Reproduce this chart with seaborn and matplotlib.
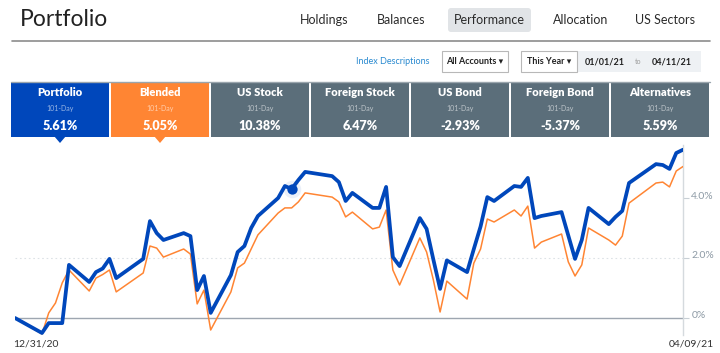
import numpy as np
import pandas as pd
import matplotlib
matplotlib.use('Agg')
import matplotlib.pyplot as plt
import matplotlib.transforms as mtransforms
from matplotlib.patches import Rectangle, FancyBboxPatch, Polygon
import seaborn as sns

# %% data
dates = ['2020-12-31',
         '2021-01-04', '2021-01-05', '2021-01-06', '2021-01-07', '2021-01-08',
         '2021-01-11', '2021-01-12', '2021-01-13', '2021-01-14', '2021-01-15',
         '2021-01-19', '2021-01-20', '2021-01-21', '2021-01-22',
         '2021-01-25', '2021-01-26', '2021-01-27', '2021-01-28', '2021-01-29',
         '2021-02-01', '2021-02-02', '2021-02-03', '2021-02-04', '2021-02-05',
         '2021-02-08', '2021-02-09', '2021-02-10', '2021-02-11', '2021-02-12',
         '2021-02-16', '2021-02-17', '2021-02-18', '2021-02-19',
         '2021-02-22', '2021-02-23', '2021-02-24', '2021-02-25', '2021-02-26',
         '2021-03-01', '2021-03-02', '2021-03-03', '2021-03-04', '2021-03-05',
         '2021-03-08', '2021-03-09', '2021-03-10', '2021-03-11', '2021-03-12',
         '2021-03-15', '2021-03-16', '2021-03-17', '2021-03-18', '2021-03-19',
         '2021-03-22', '2021-03-23', '2021-03-24', '2021-03-25', '2021-03-26',
         '2021-03-29', '2021-03-30', '2021-03-31', '2021-04-01',
         '2021-04-05', '2021-04-06', '2021-04-07', '2021-04-08', '2021-04-09']

portfolio = [0.00,
             -0.50, -0.17, -0.17, -0.17, 1.77,
             1.20, 1.53, 1.65, 1.97, 1.33,
             1.97, 3.23, 2.83, 2.60,
             2.83, 2.73, 0.93, 1.40, 0.17,
             1.43, 2.20, 2.40, 3.00, 3.40,
             4.00, 4.40, 4.30, 4.60, 4.87,
             4.73, 4.53, 3.90, 4.17,
             3.67, 3.67, 4.37, 2.03, 1.73,
             3.33, 2.97, 1.95, 0.97, 1.92,
             1.53, 2.30, 3.05, 4.03, 3.90,
             4.40, 4.37, 4.67, 3.33, 3.40,
             3.53, 2.75, 1.97, 2.60, 3.67,
             3.13, 3.37, 3.57, 4.50,
             5.13, 5.10, 4.97, 5.50, 5.61]

blended = [0.00,
           -0.53, 0.17, 0.50, 1.17, 1.60,
           0.90, 1.33, 1.45, 1.60, 0.87,
           1.50, 2.40, 2.33, 2.03,
           2.30, 2.13, 0.47, 0.93, -0.40,
           0.87, 1.67, 1.83, 2.30, 2.77,
           3.50, 3.67, 3.67, 3.87, 4.17,
           4.03, 3.87, 3.37, 3.53,
           2.97, 3.03, 3.60, 1.60, 1.10,
           2.67, 2.20, 1.27, 0.20, 1.23,
           0.63, 1.83, 2.30, 3.30, 3.20,
           3.60, 3.40, 3.73, 2.33, 2.53,
           2.80, 1.87, 1.40, 1.77, 3.00,
           2.60, 2.43, 2.73, 3.83,
           4.50, 4.53, 4.37, 4.90, 5.05]

hover_date = '2021-02-10'

tile_names = ['Portfolio', 'Blended', 'US Stock', 'Foreign Stock', 'US Bond', 'Foreign Bond', 'Alternatives']
tile_values = ['5.61%', '5.05%', '10.38%', '6.47%', '-2.93%', '-5.37%', '5.59%']
tile_period = '101-Day'

nav_items = ['Holdings', 'Balances', 'Performance', 'Allocation', 'US Sectors']
nav_x = [324, 401, 489, 581, 665]

y_ticks = [0, 2, 4]
y_ticklabels = ['0%', '2.0%', '4.0%']
start_label, end_label = '12/31/20', '04/09/21'

# %% colours
BLUE = '#0047bb'
ORANGE = '#ff8533'
SLATE = '#5b6e7a'

sns.set_style('white')
plt.rcParams['font.family'] = ['Lato', 'DejaVu Sans']

W, H = 720, 353
fig = plt.figure(figsize=(W / 100, H / 100), dpi=100)

# background axes in pixel coords for the page furniture
bg = fig.add_axes([0, 0, 1, 1])
bg.set_xlim(0, W)
bg.set_ylim(H, 0)
bg.axis('off')

bg.text(20, 20, 'Portfolio', fontsize=16.5, color='#222222', va='center', ha='left')
bg.add_patch(FancyBboxPatch((448, 8), 83, 24, boxstyle='round,pad=0,rounding_size=3',
                            fc='#e1e4e7', ec='none'))
for name, x in zip(nav_items, nav_x):
    bg.text(x, 20, name, fontsize=9, color='#2b2b2b', ha='center', va='center')
bg.plot([12, 710], [41, 41], color='#8c8c8c', lw=1.2)

# filter row
bg.text(393, 61, 'Index Descriptions', fontsize=6.5, color='#2a8ad0', ha='center', va='center')
bg.add_patch(Rectangle((442, 51), 66, 21, fc='white', ec='#b8b8b8', lw=0.8))
bg.text(475, 61.5, 'All Accounts ▾', fontsize=6.5, fontweight='bold', color='#222222',
        ha='center', va='center')
bg.add_patch(Rectangle((577, 51), 124, 21, fc='#eef1f4', ec='none'))
bg.add_patch(Rectangle((521, 51), 56, 21, fc='white', ec='#b8b8b8', lw=0.8))
bg.text(549, 61.5, 'This Year ▾', fontsize=6.5, fontweight='bold', color='#222222',
        ha='center', va='center')
bg.text(605, 62, '01/01/21', fontsize=6.5, fontweight='bold', color='#222222', ha='center', va='center')
bg.text(638, 62, 'to', fontsize=5, color='#999999', ha='center', va='center')
bg.text(672, 62, '04/11/21', fontsize=6.5, fontweight='bold', color='#222222', ha='center', va='center')

# summary tiles
bg.plot([11, 710], [81.5, 81.5], color='#9aa5ad', lw=1)
tile_colors = [BLUE, ORANGE] + [SLATE] * (len(tile_names) - 2)
for i, (name, val, col) in enumerate(zip(tile_names, tile_values, tile_colors)):
    x0 = 11 + i * 100
    bg.add_patch(Rectangle((x0, 82), 98, 55, fc=col, ec='none'))
    cx = x0 + 49
    bg.text(cx, 93, name, fontsize=8, fontweight='heavy', color='white', ha='center', va='center')
    bg.text(cx, 108.5, tile_period, fontsize=5, color='white', alpha=0.6, ha='center', va='center')
    bg.text(cx, 126, val, fontsize=9, fontweight='heavy', color='white', ha='center', va='center')
    if i < 2:
        bg.add_patch(Polygon([(cx - 6, 136), (cx + 6, 136), (cx, 143)], closed=True, fc=col, ec='none'))

# %% chart
df = pd.DataFrame({'date': pd.to_datetime(dates), 'Portfolio': portfolio, 'Blended': blended})
long_df = df.melt('date', var_name='series', value_name='ret')

ax = fig.add_axes([15 / W, (H - 335) / H, (683 - 15) / W, (335 - 145) / H])
ax.patch.set_alpha(0)
ax.axhline(2, color='#dde2e6', lw=0.8, ls=(0, (1.5, 2.5)), zorder=0)
ax.axhline(0, color='#9ea6b0', lw=1.0, zorder=1)

sns.lineplot(data=long_df, x='date', y='ret', hue='series', hue_order=['Blended', 'Portfolio'],
             palette={'Blended': ORANGE, 'Portfolio': BLUE},
             size='series', sizes={'Blended': 1.1, 'Portfolio': 2.7},
             legend=False, ax=ax, zorder=3)

hov = df.loc[df['date'] == pd.Timestamp(hover_date), 'Portfolio'].iloc[0]
ax.scatter([pd.Timestamp(hover_date)], [hov], s=160, color=BLUE, alpha=0.08, zorder=4, lw=0)
ax.scatter([pd.Timestamp(hover_date)], [hov], s=55, color=BLUE, zorder=5, lw=0)

ax.set_xlim(df['date'].iloc[0], df['date'].iloc[-1])
ax.set_ylim(-0.567, 5.767)
ax.set_xlabel('')
ax.set_ylabel('')

for s in ['top', 'left', 'bottom']:
    ax.spines[s].set_visible(False)
ax.spines['right'].set_color('#d5dade')
ax.spines['right'].set_linewidth(1)

ax.yaxis.tick_right()
ax.set_yticks(y_ticks)
ax.set_yticklabels(y_ticklabels)
ax.tick_params(axis='y', length=4, width=0.8, color='#c8cfd5', labelcolor='#8d9aa5',
               labelsize=7.5, pad=2)
for lab in ax.get_yticklabels():
    lab.set_transform(lab.get_transform() + mtransforms.ScaledTranslation(0, 3 / 100, fig.dpi_scale_trans))

ax.set_xticks([df['date'].iloc[0], df['date'].iloc[-1]])
ax.set_xticklabels([start_label, end_label])
ax.tick_params(axis='x', length=0, labelsize=7.5, labelcolor='#333333', pad=3)
xl = ax.get_xticklabels()
xl[0].set_ha('left')
xl[0].set_transform(xl[0].get_transform() + mtransforms.ScaledTranslation(-2 / 100, 0, fig.dpi_scale_trans))
xl[1].set_transform(xl[1].get_transform() + mtransforms.ScaledTranslation(8 / 100, 0, fig.dpi_scale_trans))

fig.savefig('out.png', dpi=100)
